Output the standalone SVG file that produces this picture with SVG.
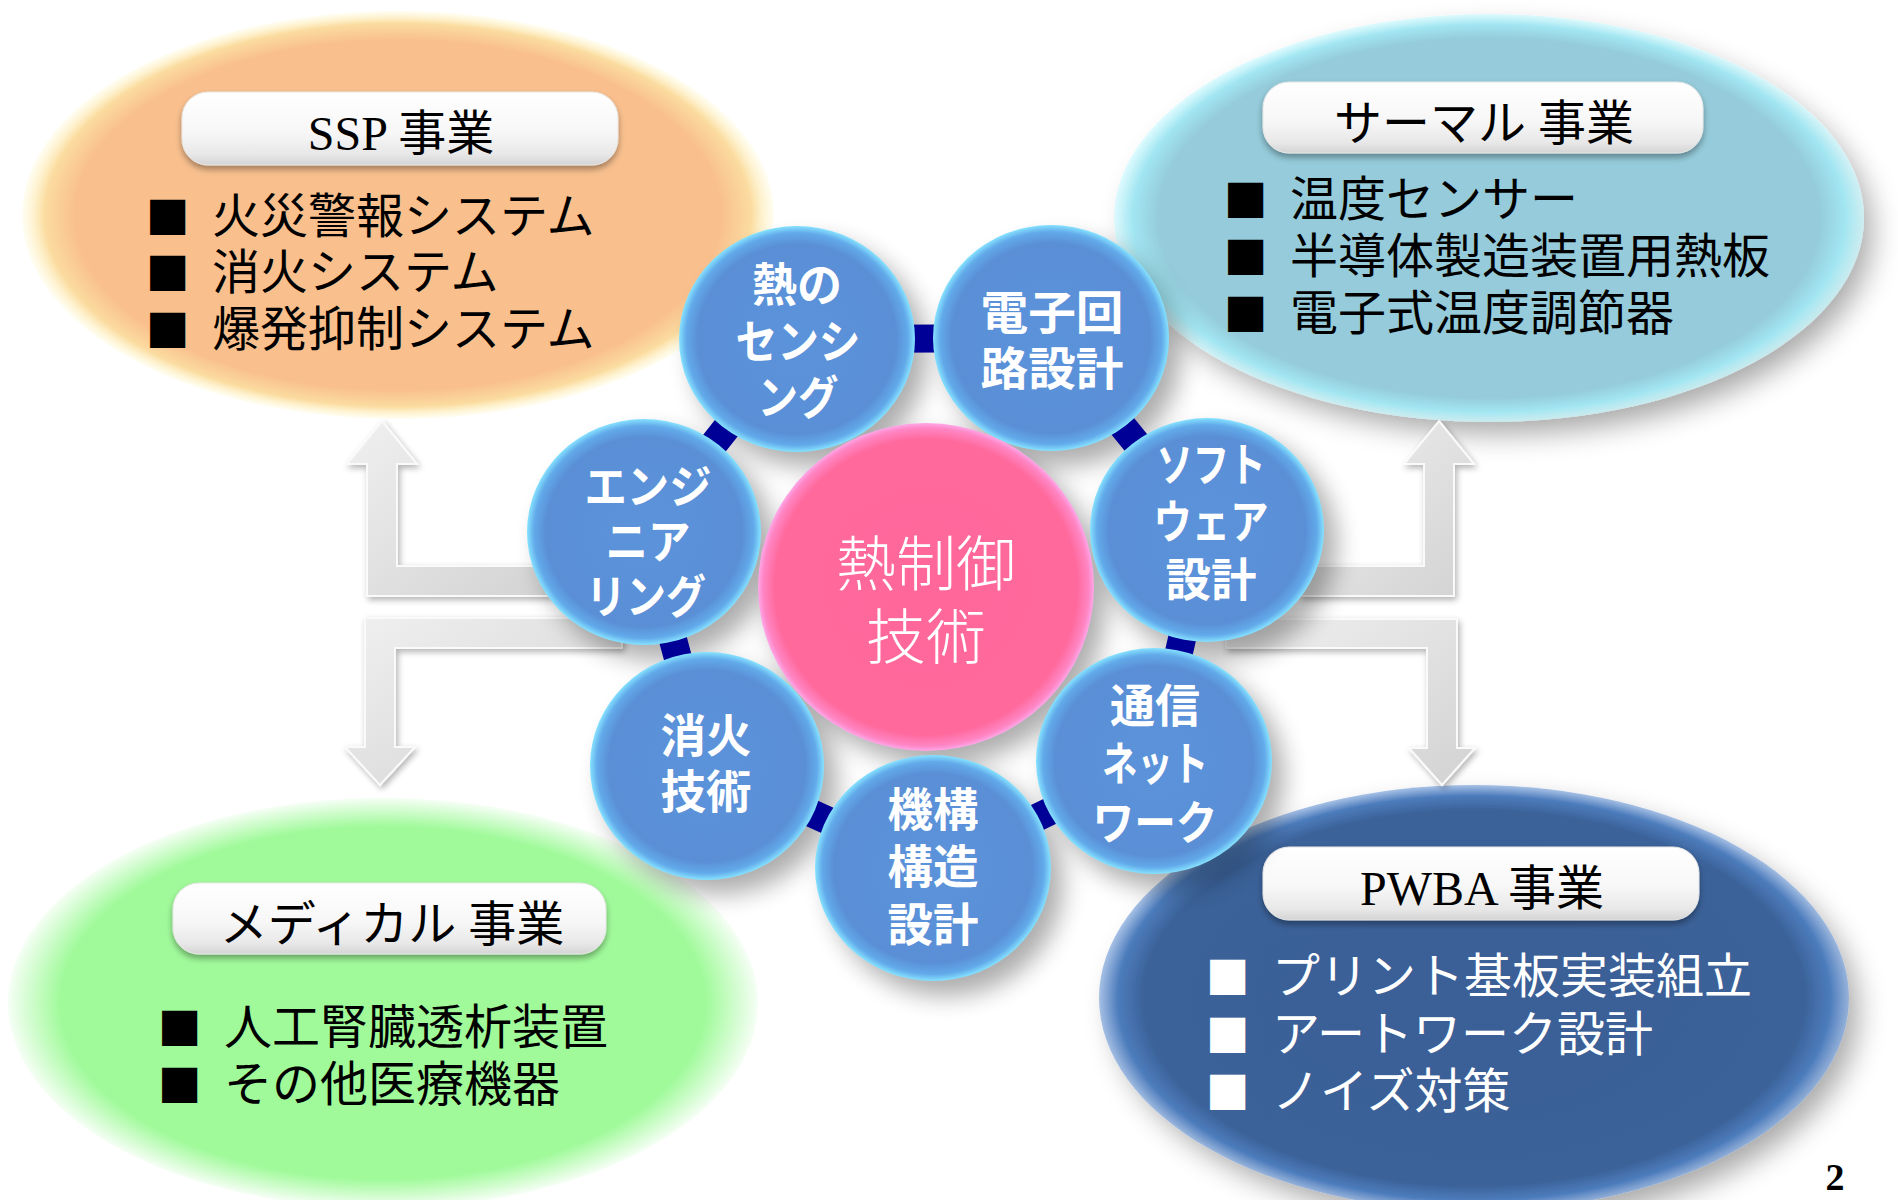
<svg xmlns="http://www.w3.org/2000/svg" width="1898" height="1200" viewBox="0 0 1898 1200">
<style>
.item{font-family:"DejaVu Sans","Noto Sans CJK JP",sans-serif;font-size:48px;fill:#000}
.itemw{font-family:"DejaVu Sans","Noto Sans CJK JP",sans-serif;font-size:48px;fill:#fff}
.bul{font-size:46px}
.lbl{font-family:"Liberation Serif","Noto Sans CJK JP",serif;font-size:48px;fill:#000;text-anchor:middle}
.sat{font-family:"DejaVu Sans","Noto Sans CJK JP",sans-serif;font-size:46px;font-weight:bold;fill:#fff;text-anchor:middle}
.ctr{font-family:"DejaVu Sans","Noto Sans CJK JP",sans-serif;font-size:60px;font-weight:300;fill:#fff;text-anchor:middle}
.box{fill:url(#boxG);stroke:#e6e6e6;stroke-width:1;filter:url(#boxSh)}
.satb{fill:url(#satG)}
.arrow{fill:url(#arrG);stroke:#fafafa;stroke-width:2;filter:url(#arrSh)}
.link{fill:none;stroke:#000096;stroke-width:28;stroke-linejoin:round}
</style>
<defs>
<radialGradient id="sspG" cx="0.5" cy="0.5" r="0.5">
<stop offset="0" stop-color="#f9c08e"/><stop offset="0.86" stop-color="#f9c08e"/><stop offset="0.94" stop-color="#fbdca0"/><stop offset="1" stop-color="#fff6c0" stop-opacity="0.2"/>
</radialGradient>
<radialGradient id="thG" cx="0.5" cy="0.5" r="0.5">
<stop offset="0" stop-color="#95cbda"/><stop offset="0.88" stop-color="#95cbda"/><stop offset="0.95" stop-color="#a2e6f2"/><stop offset="1" stop-color="#c0f8ff" stop-opacity="0.5"/>
</radialGradient>
<radialGradient id="mdG" cx="0.5" cy="0.5" r="0.5">
<stop offset="0" stop-color="#a0fa9a"/><stop offset="0.86" stop-color="#a0fa9a"/><stop offset="1" stop-color="#a0fa9a" stop-opacity="0.1"/>
</radialGradient>
<radialGradient id="pwG" cx="0.5" cy="0.5" r="0.5">
<stop offset="0" stop-color="#3a6097"/><stop offset="0.88" stop-color="#3b6299"/><stop offset="0.95" stop-color="#4d7cbc"/><stop offset="1" stop-color="#6f9ad6" stop-opacity="0.6"/>
</radialGradient>
<radialGradient id="satG" cx="0.5" cy="0.5" r="0.5">
<stop offset="0" stop-color="#5b93da"/><stop offset="0.84" stop-color="#5a8fd6"/><stop offset="0.94" stop-color="#62aaea"/><stop offset="1" stop-color="#86e2ff"/>
</radialGradient>
<radialGradient id="pkG" cx="0.5" cy="0.5" r="0.5">
<stop offset="0" stop-color="#ff679b"/><stop offset="0.9" stop-color="#ff699c"/><stop offset="0.97" stop-color="#ff86c4"/><stop offset="1" stop-color="#ffa8ea"/>
</radialGradient>
<linearGradient id="boxG" x1="0" y1="0" x2="0" y2="1">
<stop offset="0" stop-color="#ffffff"/><stop offset="0.55" stop-color="#f7f7f7"/><stop offset="0.85" stop-color="#e8e8e8"/><stop offset="1" stop-color="#d4d4d4"/>
</linearGradient>
<linearGradient id="arrG" x1="0" y1="0" x2="1" y2="1">
<stop offset="0" stop-color="#f0f0f0"/><stop offset="1" stop-color="#d2d2d2"/>
</linearGradient>
<filter id="boxSh" x="-10%" y="-20%" width="120%" height="160%">
<feGaussianBlur in="SourceAlpha" stdDeviation="3"/><feOffset dx="0" dy="4"/>
<feComponentTransfer><feFuncA type="linear" slope="0.35"/></feComponentTransfer>
<feMerge><feMergeNode/><feMergeNode in="SourceGraphic"/></feMerge>
</filter>
<filter id="arrSh" x="-30%" y="-30%" width="160%" height="160%">
<feGaussianBlur in="SourceAlpha" stdDeviation="3"/><feOffset dx="2" dy="3"/>
<feComponentTransfer><feFuncA type="linear" slope="0.3"/></feComponentTransfer>
<feMerge><feMergeNode/><feMergeNode in="SourceGraphic"/></feMerge>
</filter>
<filter id="bigSh" x="-20%" y="-20%" width="150%" height="150%">
<feGaussianBlur in="SourceAlpha" stdDeviation="14"/><feOffset dx="12" dy="14"/>
<feComponentTransfer><feFuncA type="linear" slope="0.35"/></feComponentTransfer>
<feMerge><feMergeNode/><feMergeNode in="SourceGraphic"/></feMerge>
</filter>
<filter id="blur" x="-20%" y="-20%" width="140%" height="140%">
<feGaussianBlur stdDeviation="12"/>
</filter>
</defs>

<rect x="0" y="0" width="1898" height="1200" fill="#ffffff"/>

<!-- business ellipses -->
<g id="ssp">
<ellipse cx="398" cy="215" rx="376" ry="204" fill="url(#sspG)"/>
<rect class="box" x="182" y="92" width="436" height="73" rx="26"/>
<text class="lbl" x="401" y="150">SSP 事業</text>
<text class="item"><tspan class="bul" x="146" y="229">■</tspan><tspan x="212" y="233">火災警報システム</tspan></text>
<text class="item"><tspan class="bul" x="146" y="285">■</tspan><tspan x="212" y="289">消火システム</tspan></text>
<text class="item"><tspan class="bul" x="146" y="342">■</tspan><tspan x="212" y="346">爆発抑制システム</tspan></text>
</g>

<g id="thermal">
<ellipse cx="1489" cy="218" rx="375" ry="204" fill="url(#thG)" filter="url(#bigSh)"/>
<rect class="box" x="1263" y="82" width="440" height="71" rx="26"/>
<text class="lbl" x="1484" y="140">サーマル 事業</text>
<text class="item"><tspan class="bul" x="1224" y="212">■</tspan><tspan x="1290" y="216">温度センサー</tspan></text>
<text class="item"><tspan class="bul" x="1224" y="269">■</tspan><tspan x="1290" y="273">半導体製造装置用熱板</tspan></text>
<text class="item"><tspan class="bul" x="1224" y="326">■</tspan><tspan x="1290" y="330">電子式温度調節器</tspan></text>
</g>

<g id="medical">
<ellipse cx="383" cy="1003" rx="375" ry="205" fill="url(#mdG)"/>
<rect class="box" x="173" y="883" width="433" height="71" rx="26"/>
<text class="lbl" x="392" y="941">メディカル 事業</text>
<text class="item"><tspan class="bul" x="158" y="1040">■</tspan><tspan x="224" y="1044">人工腎臓透析装置</tspan></text>
<text class="item"><tspan class="bul" x="158" y="1097">■</tspan><tspan x="224" y="1101">その他医療機器</tspan></text>
</g>

<g id="pwba">
<ellipse cx="1474" cy="998" rx="375" ry="213" fill="url(#pwG)" filter="url(#bigSh)"/>
<rect class="box" x="1263" y="847" width="436" height="73" rx="26"/>
<text class="lbl" x="1482" y="905">PWBA 事業</text>
<text class="itemw"><tspan class="bul" x="1206" y="989">■</tspan><tspan x="1272" y="993">プリント基板実装組立</tspan></text>
<text class="itemw"><tspan class="bul" x="1206" y="1047">■</tspan><tspan x="1272" y="1051">アートワーク設計</tspan></text>
<text class="itemw"><tspan class="bul" x="1206" y="1104">■</tspan><tspan x="1272" y="1108">ノイズ対策</tspan></text>
</g>

<text id="page" x="1835" y="1190" font-family="Liberation Serif, serif" font-size="38" font-weight="bold" text-anchor="middle" fill="#000">2</text>

<!-- arrows -->
<g id="arrows">
<path class="arrow" d="M382,421 L417,464 L397,464 L397,566 L560,566 L560,596 L367,596 L367,464 L347,464 Z"/>
<path class="arrow" d="M622,618 L365,618 L365,747 L345,747 L380,785 L415,747 L395,747 L395,648 L622,648 Z"/>
<path class="arrow" d="M1439,421 L1474,464 L1454,464 L1454,596 L1300,596 L1300,566 L1424,566 L1424,464 L1404,464 Z"/>
<path class="arrow" d="M1226,619 L1457,619 L1457,748 L1475,748 L1442,785 L1409,748 L1427,748 L1427,648 L1226,648 Z"/>
</g>

<!-- shadows of the technology nodes -->
<g id="shadows" opacity="0.32" filter="url(#blur)">
<ellipse cx="810" cy="354" rx="117" ry="113"/>
<ellipse cx="1064" cy="353" rx="117" ry="113"/>
<ellipse cx="1220" cy="545" rx="117" ry="113"/>
<ellipse cx="1167" cy="776" rx="117" ry="113"/>
<ellipse cx="946" cy="883" rx="117" ry="113"/>
<ellipse cx="720" cy="781" rx="117" ry="113"/>
<ellipse cx="657" cy="547" rx="117" ry="113"/>
<ellipse cx="938" cy="601" rx="168" ry="164"/>
</g>

<!-- connectors -->
<g id="connectors">
<polygon class="link" points="797,339 1051,338 1207,530 1154,761 933,868 707,766 644,532"/>
</g>

<!-- technology nodes -->
<g id="n-sensing">
<ellipse class="satb" cx="797" cy="339" rx="118" ry="113"/>
<text class="sat" x="797" y="301" textLength="90" lengthAdjust="spacingAndGlyphs">熱の</text>
<text class="sat" x="798" y="358" textLength="125" lengthAdjust="spacingAndGlyphs">センシ</text>
<text class="sat" x="798" y="414" textLength="81" lengthAdjust="spacingAndGlyphs">ング</text>
</g>
<g id="n-circuit">
<ellipse class="satb" cx="1051" cy="338" rx="118" ry="113"/>
<text class="sat" x="1052" y="329" textLength="143" lengthAdjust="spacingAndGlyphs">電子回</text>
<text class="sat" x="1052" y="385" textLength="143" lengthAdjust="spacingAndGlyphs">路設計</text>
</g>
<g id="n-software">
<ellipse class="satb" cx="1207" cy="530" rx="117" ry="112"/>
<text class="sat" x="1211" y="481" textLength="109" lengthAdjust="spacingAndGlyphs">ソフト</text>
<text class="sat" x="1211" y="538" textLength="115" lengthAdjust="spacingAndGlyphs">ウェア</text>
<text class="sat" x="1211" y="596" textLength="91" lengthAdjust="spacingAndGlyphs">設計</text>
</g>
<g id="n-network">
<ellipse class="satb" cx="1154" cy="761" rx="118" ry="113"/>
<text class="sat" x="1155" y="722" textLength="90" lengthAdjust="spacingAndGlyphs">通信</text>
<text class="sat" x="1155" y="780" textLength="106" lengthAdjust="spacingAndGlyphs">ネット</text>
<text class="sat" x="1155" y="839" textLength="125" lengthAdjust="spacingAndGlyphs">ワーク</text>
</g>
<g id="n-mechanism">
<ellipse class="satb" cx="933" cy="868" rx="118" ry="113"/>
<text class="sat" x="933" y="826" textLength="91" lengthAdjust="spacingAndGlyphs">機構</text>
<text class="sat" x="933" y="883" textLength="91" lengthAdjust="spacingAndGlyphs">構造</text>
<text class="sat" x="933" y="941" textLength="91" lengthAdjust="spacingAndGlyphs">設計</text>
</g>
<g id="n-fire">
<ellipse class="satb" cx="707" cy="766" rx="117" ry="114"/>
<text class="sat" x="706" y="752" textLength="91" lengthAdjust="spacingAndGlyphs">消火</text>
<text class="sat" x="706" y="808" textLength="91" lengthAdjust="spacingAndGlyphs">技術</text>
</g>
<g id="n-engineering">
<ellipse class="satb" cx="644" cy="532" rx="117" ry="113"/>
<text class="sat" x="648" y="503" textLength="127" lengthAdjust="spacingAndGlyphs">エンジ</text>
<text class="sat" x="648" y="558" textLength="85" lengthAdjust="spacingAndGlyphs">ニア</text>
<text class="sat" x="646" y="613" textLength="120" lengthAdjust="spacingAndGlyphs">リング</text>
</g>

<g id="center">
<ellipse cx="926" cy="587" rx="168" ry="164" fill="url(#pkG)"/>
<text class="ctr" x="926" y="586">熱制御</text>
<text class="ctr" x="926" y="659">技術</text>
</g>
</svg>
